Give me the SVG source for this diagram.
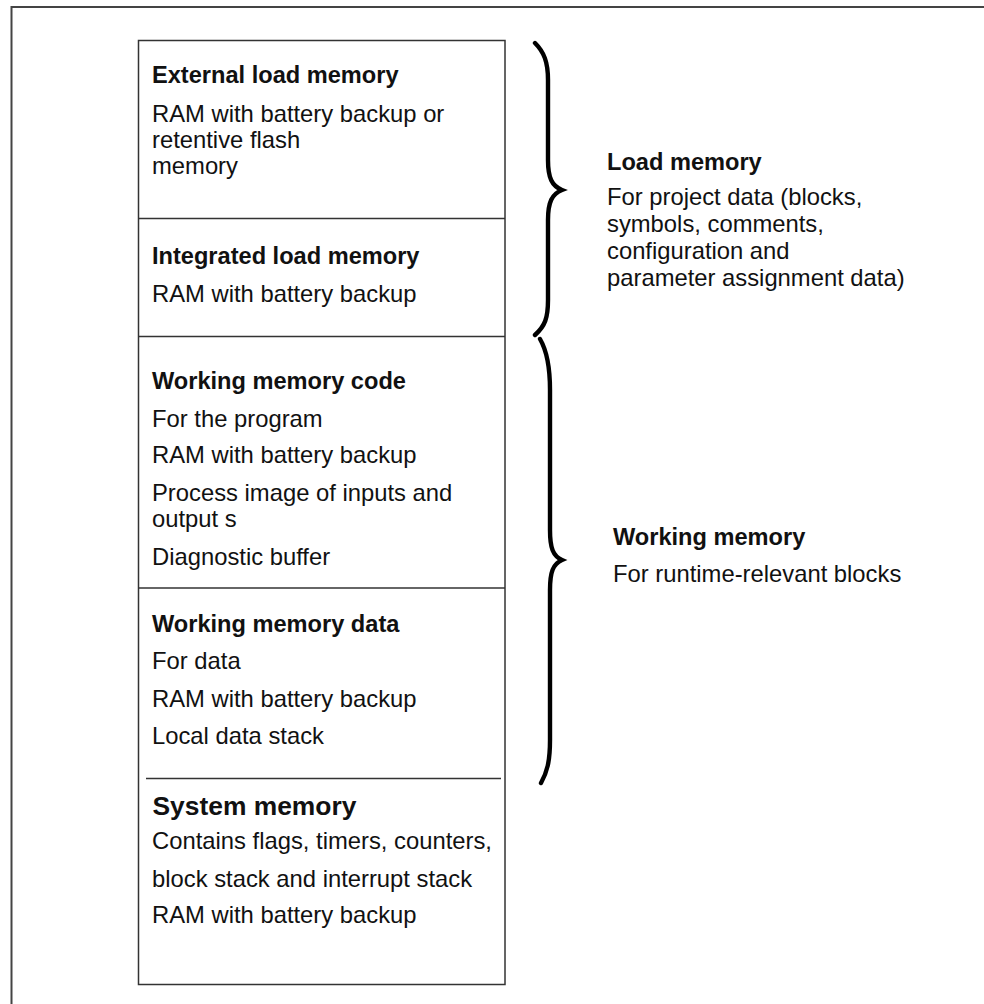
<svg xmlns="http://www.w3.org/2000/svg" width="984" height="1004" viewBox="0 0 984 1004">
  <style>
    text { font-family: "Liberation Sans", Arial, sans-serif; fill: #111; font-size: 23.8px; }
    .h { font-weight: bold; font-size: 23.6px; }
    .hs { font-weight: bold; font-size: 26.4px; }
    .frame { fill: none; stroke: #444; stroke-width: 2; }
    .box { fill: #fff; stroke: #333; stroke-width: 1.5; }
    .div { stroke: #333; stroke-width: 1.5; }
    .brace { fill: none; stroke: #000; stroke-width: 4.4; stroke-linecap: round; stroke-linejoin: miter; }
  </style>
  <rect width="984" height="1004" fill="#fff"/>
  <!-- outer frame (open to the right and bottom) -->
  <path class="frame" d="M11.5,1004 V7 H984"/>

  <!-- memory stack -->
  <rect class="box" x="138.5" y="40.5" width="366.5" height="944"/>

  <g id="external-load-memory">
    <text class="h" x="152" y="83">External load memory</text>
    <text x="152" y="122">RAM with battery backup or</text>
    <text x="152" y="148">retentive flash</text>
    <text x="152" y="174">memory</text>
  </g>
  <line class="div" x1="138.5" y1="218.5" x2="505" y2="218.5"/>

  <g id="integrated-load-memory">
    <text class="h" x="152" y="264">Integrated load memory</text>
    <text x="152" y="302">RAM with battery backup</text>
  </g>
  <line class="div" x1="138.5" y1="336.5" x2="505" y2="336.5"/>

  <g id="working-memory-code">
    <text class="h" x="152" y="389">Working memory code</text>
    <text x="152" y="427">For the program</text>
    <text x="152" y="463">RAM with battery backup</text>
    <text x="152" y="501">Process image of inputs and</text>
    <text x="152" y="527">output s</text>
    <text x="152" y="565">Diagnostic buffer</text>
  </g>
  <line class="div" x1="138.5" y1="588" x2="505" y2="588"/>

  <g id="working-memory-data">
    <text class="h" x="152" y="632">Working memory data</text>
    <text x="152" y="669">For data</text>
    <text x="152" y="707">RAM with battery backup</text>
    <text x="152" y="744">Local data stack</text>
  </g>
  <line class="div" x1="146" y1="778.5" x2="501" y2="778.5"/>

  <g id="system-memory">
    <text class="hs" x="152.5" y="815">System memory</text>
    <text x="152" y="849">Contains flags, timers, counters,</text>
    <text x="152" y="887">block stack and interrupt stack</text>
    <text x="152" y="923">RAM with battery backup</text>
  </g>

  <!-- braces -->
  <g id="braces">
    <path class="brace" d="M535,43 C544,52 548,62 548,80 L548,160 C548,178 552,186 562,190 C552,194 548,202 548,220 L548,300 C548,318 545,326 535,335"/>
    <path class="brace" d="M540,339 C547,351 550,366 550,390 L550,530 C550,548 553,556 562,560 C553,564 550,572 550,590 L550,740 C550,762 547,772 541,783"/>
  </g>

  <g id="load-memory">
    <text class="h" x="607" y="170">Load memory</text>
    <text x="607" y="205">For project data (blocks,</text>
    <text x="607" y="232">symbols, comments,</text>
    <text x="607" y="259">configuration and</text>
    <text x="607" y="286">parameter assignment data)</text>
  </g>

  <g id="working-memory">
    <text class="h" x="613" y="545">Working memory</text>
    <text x="613" y="582">For runtime-relevant blocks</text>
  </g>
</svg>
